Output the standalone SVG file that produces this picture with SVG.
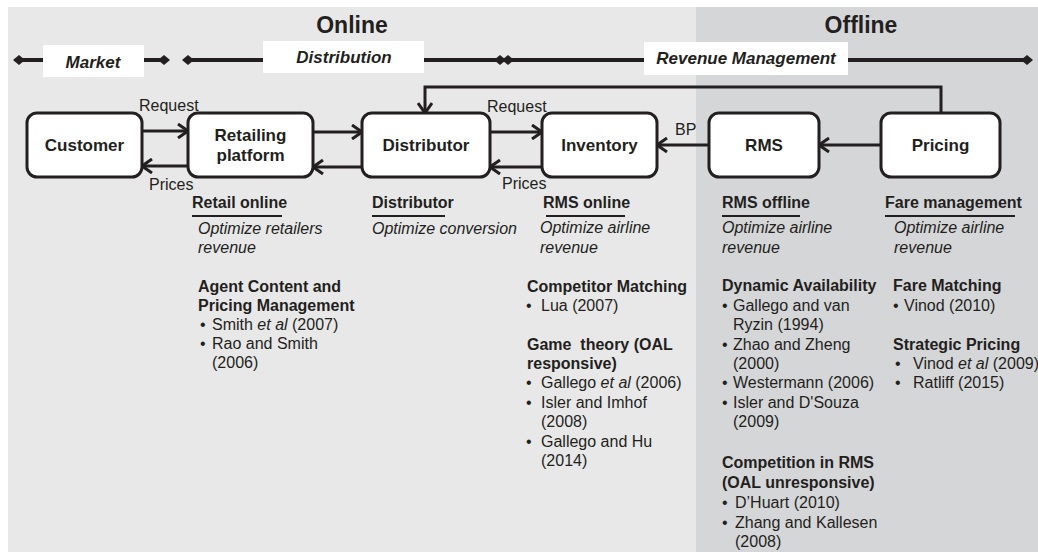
<svg xmlns="http://www.w3.org/2000/svg" width="1038" height="552" viewBox="0 0 1038 552">
<defs>
<style>
text{font-family:"Liberation Sans",Arial,sans-serif;fill:#231f20;}
.big{font-size:23px;font-weight:bold;text-anchor:middle;}
.band{font-size:17px;font-weight:bold;font-style:italic;text-anchor:middle;}
.node rect{fill:#fff;stroke:#231f20;stroke-width:3;}
.nl{font-size:17px;font-weight:bold;text-anchor:middle;}
.lab{font-size:16px;}
.h{font-size:16px;font-weight:bold;}
.it{font-size:16px;font-style:italic;}
.b{font-size:16px;}
.ul{stroke:#231f20;stroke-width:2;}
.conn{fill:none;stroke:#231f20;stroke-width:3;marker-end:url(#arr);}
.bar{stroke:#231f20;stroke-width:4;}
.dia{fill:#231f20;}
</style>
<marker id="arr" markerUnits="userSpaceOnUse" markerWidth="14" markerHeight="16" refX="12" refY="8" orient="auto">
<path d="M2,1 L12,8 L2,15" fill="none" stroke="#231f20" stroke-width="3"/>
</marker>
</defs>
<rect x="8" y="7" width="688" height="545" fill="#e8e8e8"/>
<rect x="696" y="7" width="342" height="545" fill="#d5d6d8"/>
<text class="big" x="352" y="33">Online</text>
<text class="big" x="861" y="33">Offline</text>
<g id="bands">
<line class="bar" x1="19" y1="60" x2="164" y2="60"/>
<line class="bar" x1="188" y1="60" x2="1027" y2="60"/>
<path class="dia" d="M13,60 L19,55 L25,60 L19,65 Z"/>
<path class="dia" d="M158,60 L164,55 L170,60 L164,65 Z"/>
<path class="dia" d="M182,60 L188,55 L194,60 L188,65 Z"/>
<path class="dia" d="M494,60 L500,55 L506,60 L500,65 Z"/>
<path class="dia" d="M502,60 L508,55 L514,60 L508,65 Z"/>
<path class="dia" d="M1021,60 L1027,55 L1033,60 L1027,65 Z"/>
<rect x="43" y="45" width="101" height="32" fill="#fff"/>
<text class="band" x="93" y="68">Market</text>
<rect x="263" y="41" width="161" height="32" fill="#fff"/>
<text class="band" x="344" y="63">Distribution</text>
<rect x="644" y="42" width="204" height="33" fill="#fff"/>
<text class="band" x="746" y="64">Revenue Management</text>
</g>
<g id="connectors">
<line class="conn" x1="142" y1="131" x2="188" y2="131"/>
<line class="conn" x1="188" y1="166" x2="142" y2="166"/>
<line class="conn" x1="313" y1="132" x2="362" y2="132"/>
<line class="conn" x1="362" y1="167" x2="313" y2="167"/>
<line class="conn" x1="490" y1="132" x2="542" y2="132"/>
<line class="conn" x1="542" y1="167" x2="490" y2="167"/>
<line class="conn" x1="709" y1="145" x2="657" y2="145"/>
<line class="conn" x1="881" y1="145" x2="819" y2="145"/>
<polyline class="conn" points="941,113 941,87 425,87 425,113"/>
<text class="lab" x="139" y="111">Request</text>
<text class="lab" x="149" y="190">Prices</text>
<text class="lab" x="487" y="112">Request</text>
<text class="lab" x="502" y="189">Prices</text>
<text class="lab" x="675" y="135">BP</text>
</g>
<g id="customer" class="node"><rect x="27" y="113" width="115" height="64" rx="10"/><text class="nl" x="84.5" y="151">Customer</text></g>
<g id="retailing" class="node"><rect x="188" y="113" width="125" height="64" rx="10"/><text class="nl" x="250.5" y="141">Retailing</text><text class="nl" x="250.5" y="161">platform</text></g>
<g id="distributor" class="node"><rect x="362" y="113" width="128" height="64" rx="10"/><text class="nl" x="426" y="151">Distributor</text></g>
<g id="inventory" class="node"><rect x="542" y="113" width="115" height="64" rx="10"/><text class="nl" x="599.5" y="151">Inventory</text></g>
<g id="rms" class="node"><rect x="709" y="113" width="110" height="64" rx="10"/><text class="nl" x="764" y="151">RMS</text></g>
<g id="pricing" class="node"><rect x="881" y="113" width="119" height="64" rx="10"/><text class="nl" x="940.5" y="151">Pricing</text></g>
<g id="col-retail">
<text class="h" x="192" y="208">Retail online</text>
<line class="ul" x1="192" y1="216" x2="282" y2="216"/>
<text class="it" x="198" y="234">Optimize retailers</text>
<text class="it" x="198" y="253">revenue</text>
<text class="h" x="198" y="292">Agent Content and</text>
<text class="h" x="198" y="311">Pricing Management</text>
<text class="b" x="200" y="330">•</text><text class="b" x="212" y="330">Smith <tspan font-style="italic">et al</tspan> (2007)</text>
<text class="b" x="200" y="349">•</text><text class="b" x="212" y="349">Rao and Smith</text>
<text class="b" x="212" y="368">(2006)</text>
</g>
<g id="col-distributor">
<text class="h" x="372" y="208">Distributor</text>
<line class="ul" x1="372" y1="216" x2="445" y2="216"/>
<text class="it" x="372" y="234">Optimize conversion</text>
</g>
<g id="col-rms-online">
<text class="h" x="543" y="208">RMS online</text>
<line class="ul" x1="546" y1="216" x2="625" y2="216"/>
<text class="it" x="540" y="233">Optimize airline</text>
<text class="it" x="540" y="253">revenue</text>
<text class="h" x="527" y="292">Competitor Matching</text>
<text class="b" x="526" y="311">•</text><text class="b" x="541" y="311">Lua (2007)</text>
<text class="h" x="527" y="350" xml:space="preserve">Game  theory (OAL</text>
<text class="h" x="527" y="369">responsive)</text>
<text class="b" x="526" y="388">•</text><text class="b" x="541" y="388">Gallego <tspan font-style="italic">et al</tspan> (2006)</text>
<text class="b" x="526" y="408">•</text><text class="b" x="541" y="408">Isler and Imhof</text>
<text class="b" x="541" y="427">(2008)</text>
<text class="b" x="526" y="447">•</text><text class="b" x="541" y="447">Gallego and Hu</text>
<text class="b" x="541" y="466">(2014)</text>
</g>
<g id="col-rms-offline">
<text class="h" x="722" y="208">RMS offline</text>
<line class="ul" x1="722" y1="216" x2="800" y2="216"/>
<text class="it" x="722" y="233">Optimize airline</text>
<text class="it" x="722" y="253">revenue</text>
<text class="h" x="722" y="291">Dynamic Availability</text>
<text class="b" x="722" y="311">•</text><text class="b" x="733" y="311">Gallego and van</text>
<text class="b" x="733" y="330">Ryzin (1994)</text>
<text class="b" x="722" y="350">•</text><text class="b" x="733" y="350">Zhao and Zheng</text>
<text class="b" x="733" y="369">(2000)</text>
<text class="b" x="722" y="388">•</text><text class="b" x="733" y="388">Westermann (2006)</text>
<text class="b" x="722" y="408">•</text><text class="b" x="733" y="408">Isler and D'Souza</text>
<text class="b" x="733" y="427">(2009)</text>
<text class="h" x="722" y="468">Competition in RMS</text>
<text class="h" x="722" y="488">(OAL unresponsive)</text>
<text class="b" x="722" y="508">•</text><text class="b" x="735" y="508">D’Huart (2010)</text>
<text class="b" x="722" y="528">•</text><text class="b" x="735" y="528">Zhang and Kallesen</text>
<text class="b" x="735" y="547">(2008)</text>
</g>
<g id="col-fare">
<text class="h" x="885" y="208">Fare management</text>
<line class="ul" x1="885" y1="216" x2="1015" y2="216"/>
<text class="it" x="894" y="233">Optimize airline</text>
<text class="it" x="894" y="253">revenue</text>
<text class="h" x="893" y="291">Fare Matching</text>
<text class="b" x="893" y="311">•</text><text class="b" x="904" y="311">Vinod (2010)</text>
<text class="h" x="893" y="350">Strategic Pricing</text>
<text class="b" x="895" y="369">•</text><text class="b" x="913" y="369">Vinod <tspan font-style="italic">et al</tspan> (2009)</text>
<text class="b" x="895" y="388">•</text><text class="b" x="913" y="388">Ratliff (2015)</text>
</g>
</svg>
